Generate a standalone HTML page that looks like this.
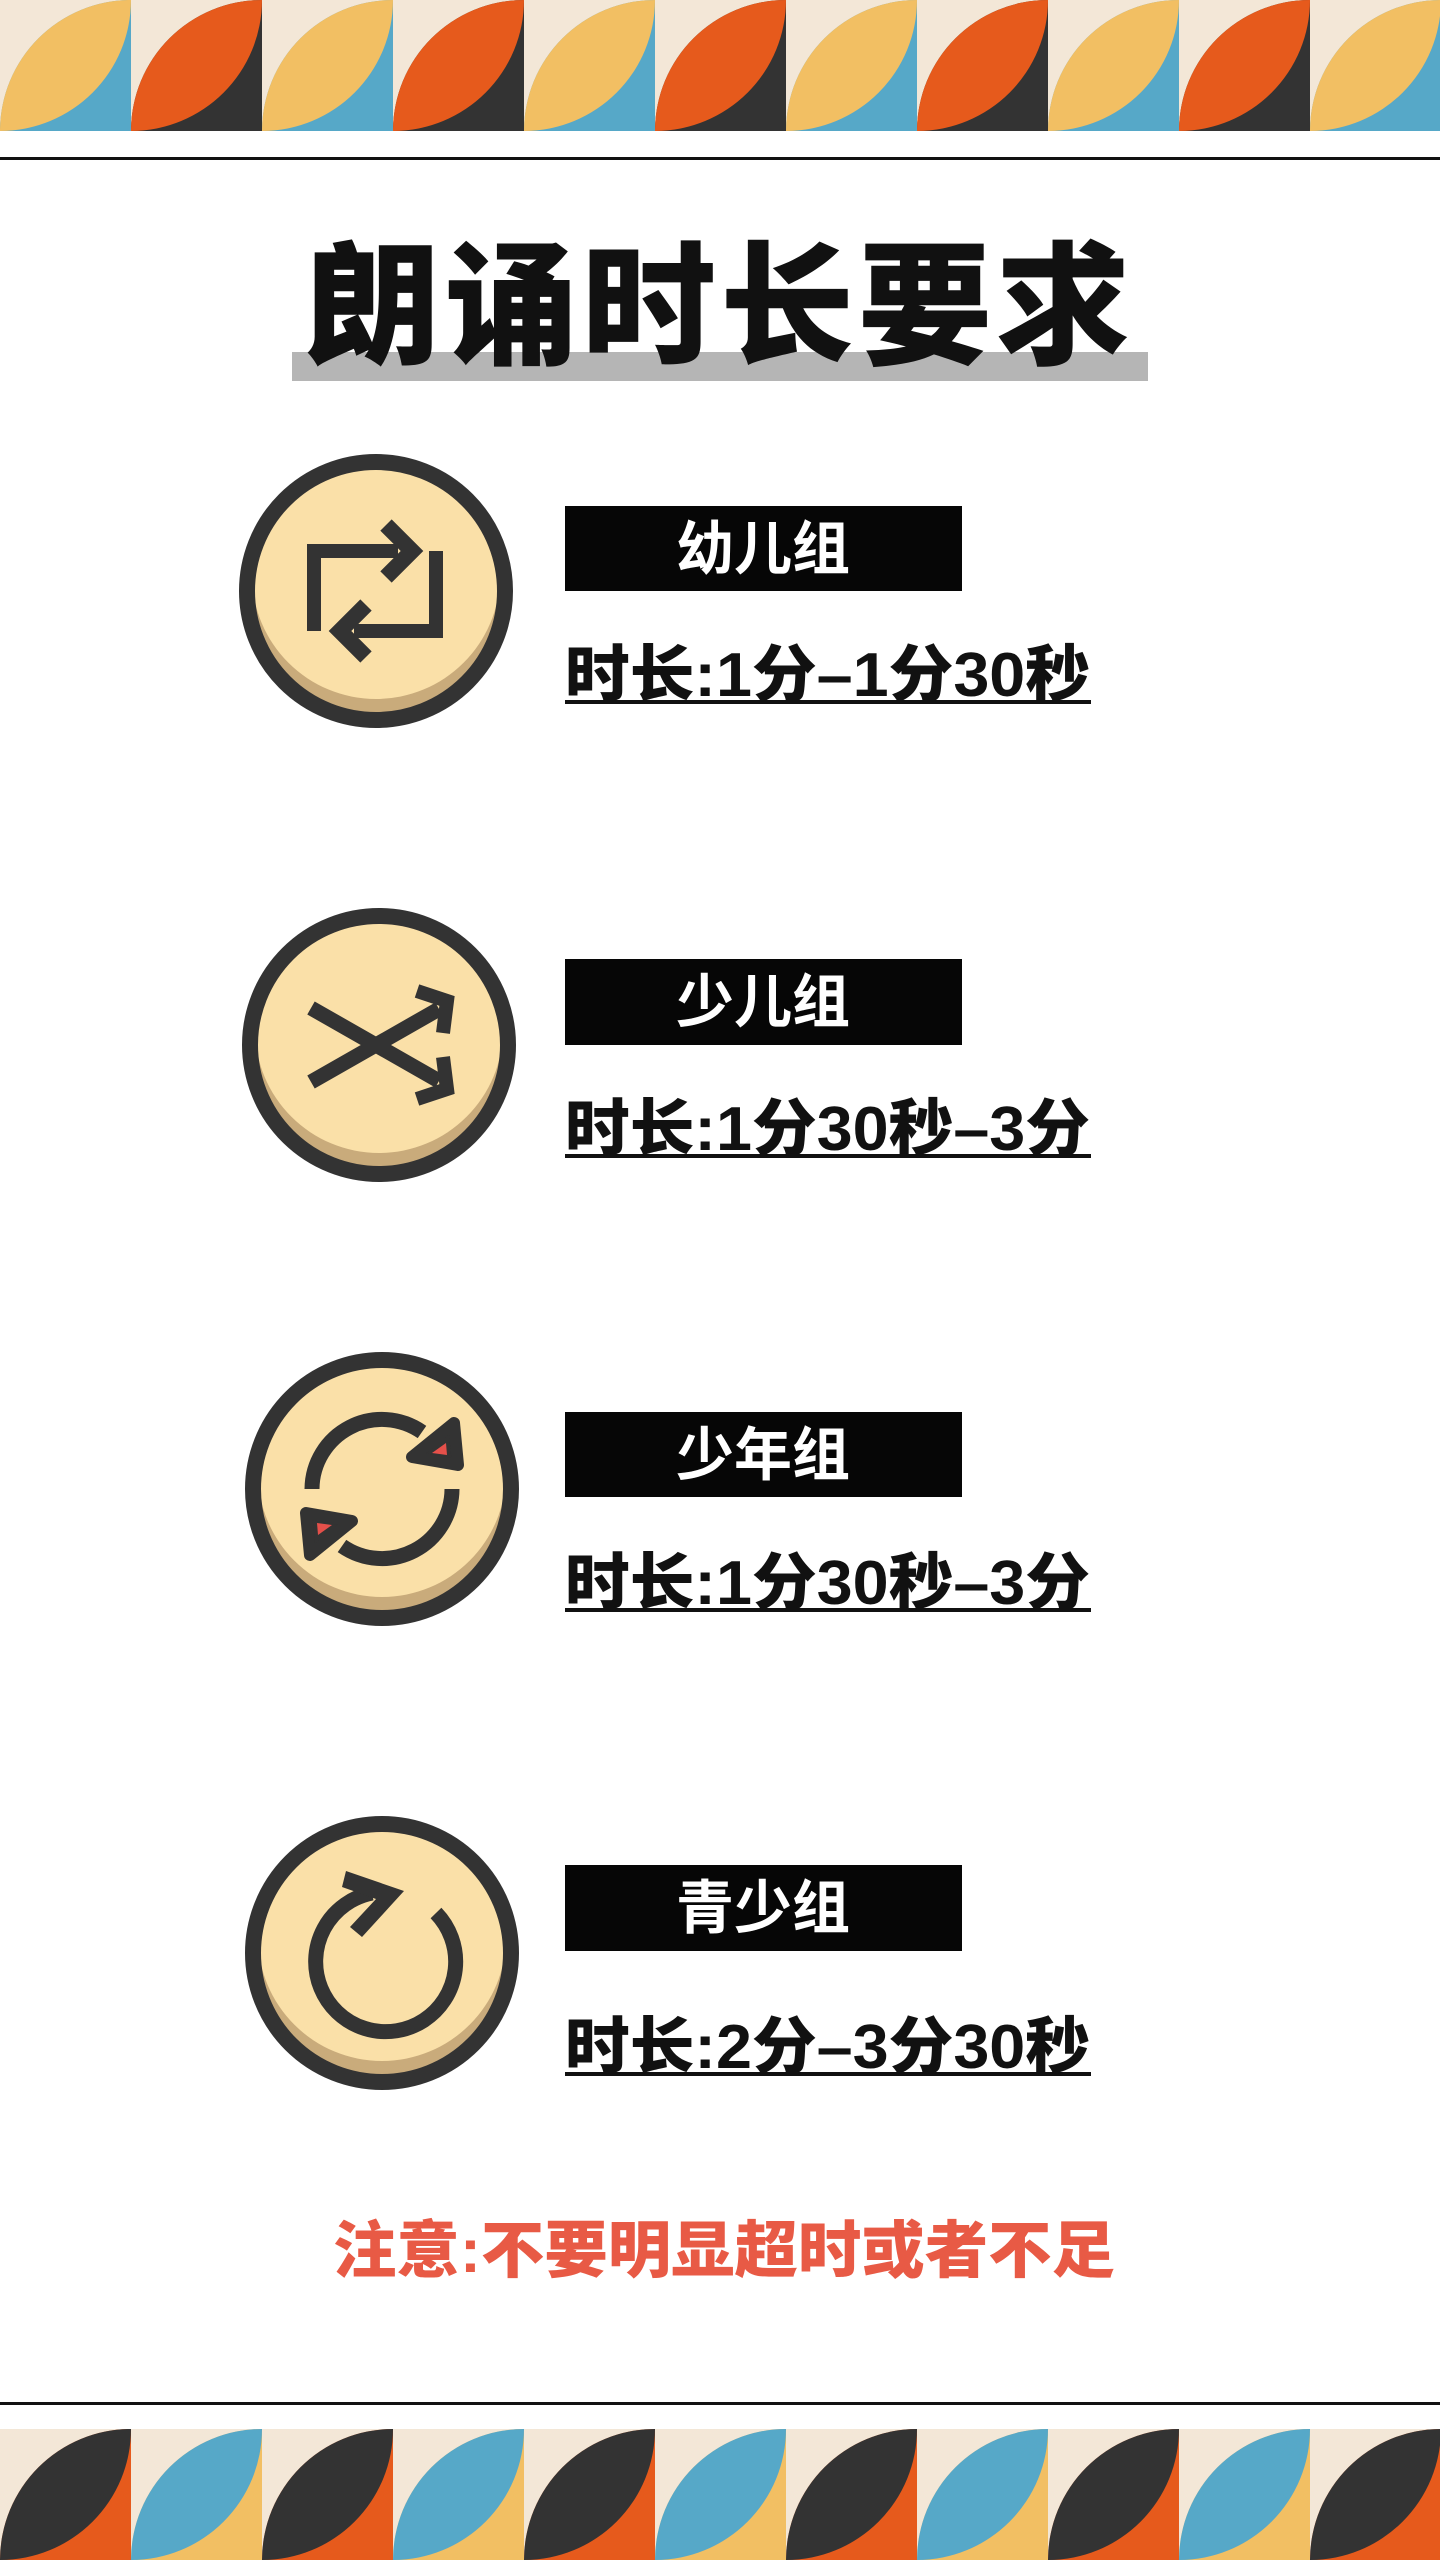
<!DOCTYPE html>
<html><head><meta charset="utf-8"><style>
html,body{margin:0;padding:0;background:#fff;}
svg{display:block;}
text{font-family:"Liberation Sans","Noto Sans CJK SC",sans-serif;}
</style></head><body>
<svg width="1440" height="2560" viewBox="0 0 1440 2560" xmlns="http://www.w3.org/2000/svg">
<defs>
<g id="tA"><rect width="131" height="131" fill="#f3e7d7"/><path d="M0 131 A131 131 0 0 1 131 0 L131 131 Z" fill="#56a8c8"/><path d="M0 131 A131 131 0 0 1 131 0 A131 131 0 0 1 0 131 Z" fill="#f2bf63"/></g>
<g id="tB"><rect width="131" height="131" fill="#f3e7d7"/><path d="M0 131 A131 131 0 0 1 131 0 L131 131 Z" fill="#333"/><path d="M0 131 A131 131 0 0 1 131 0 A131 131 0 0 1 0 131 Z" fill="#e65a1c"/></g>
<g id="tC"><rect width="131" height="131" fill="#f3e7d7"/><path d="M0 131 A131 131 0 0 1 131 0 L131 131 Z" fill="#e65a1c"/><path d="M0 131 A131 131 0 0 1 131 0 A131 131 0 0 1 0 131 Z" fill="#333"/></g>
<g id="tD"><rect width="131" height="131" fill="#f3e7d7"/><path d="M0 131 A131 131 0 0 1 131 0 L131 131 Z" fill="#f2bf63"/><path d="M0 131 A131 131 0 0 1 131 0 A131 131 0 0 1 0 131 Z" fill="#56a8c8"/></g>
<clipPath id="cc"><circle cx="0" cy="0" r="124"/></clipPath>
<g id="btn"><circle r="124" fill="#c9ab7b"/><circle cy="-16" r="124" fill="#fae0a8" clip-path="url(#cc)"/><circle r="129" fill="none" stroke="#333" stroke-width="16"/></g>
</defs>
<use href="#tA" x="0" y="0"/><use href="#tB" x="131" y="0"/><use href="#tA" x="262" y="0"/><use href="#tB" x="393" y="0"/><use href="#tA" x="524" y="0"/><use href="#tB" x="655" y="0"/><use href="#tA" x="786" y="0"/><use href="#tB" x="917" y="0"/><use href="#tA" x="1048" y="0"/><use href="#tB" x="1179" y="0"/><use href="#tA" x="1310" y="0"/>
<rect x="0" y="157" width="1440" height="3" fill="#111"/>
<rect x="0" y="2402" width="1440" height="3" fill="#111"/>
<use href="#tC" x="0" y="2429"/><use href="#tD" x="131" y="2429"/><use href="#tC" x="262" y="2429"/><use href="#tD" x="393" y="2429"/><use href="#tC" x="524" y="2429"/><use href="#tD" x="655" y="2429"/><use href="#tC" x="786" y="2429"/><use href="#tD" x="917" y="2429"/><use href="#tC" x="1048" y="2429"/><use href="#tD" x="1179" y="2429"/><use href="#tC" x="1310" y="2429"/>
<rect x="292" y="352" width="856" height="29" fill="#b5b5b5"/>
<text x="720" y="354" text-anchor="middle" font-size="134" font-weight="900" fill="#111" letter-spacing="4">朗诵时长要求</text>

<g transform="translate(376,591)"><use href="#btn"/>
<path d="M-62 40 V-40 H22" fill="none" stroke="#333" stroke-width="14"/>
<path d="M10 -66 L36 -40 L10 -14" fill="none" stroke="#333" stroke-width="16"/>
<path d="M60 -40 V40 H-22" fill="none" stroke="#333" stroke-width="14"/>
<path d="M-10 14 L-36 40 L-10 66" fill="none" stroke="#333" stroke-width="16"/>
</g>
<g transform="translate(379,1045)"><use href="#btn"/>
<path d="M-68 -37 L60 36 M-68 37 L60 -36" fill="none" stroke="#333" stroke-width="15"/>
<path d="M38 -54 L68 -44 L64 -12" fill="none" stroke="#333" stroke-width="14"/>
<path d="M38 54 L68 44 L64 12" fill="none" stroke="#333" stroke-width="14"/>
</g>
<g transform="translate(382,1489)"><use href="#btn"/>
<path d="M-70 0 A70 70 0 0 1 40 -57" fill="none" stroke="#333" stroke-width="15"/>
<path d="M70 0 A70 70 0 0 1 -40 57" fill="none" stroke="#333" stroke-width="15"/>
<path d="M72 -66 L30 -32 L76 -24 Z" fill="#333" stroke="#333" stroke-width="12" stroke-linejoin="round"/>
<path d="M-72 66 L-30 32 L-76 24 Z" fill="#333" stroke="#333" stroke-width="12" stroke-linejoin="round"/>
<path d="M64 -46 L50 -36 L65 -34 Z" fill="#e5504a"/>
<path d="M-64 46 L-50 36 L-65 34 Z" fill="#e5504a"/>
</g>
<g transform="translate(382,1953)"><use href="#btn"/>
<path d="M54 -40 A70 70 0 1 1 -10 -60" fill="none" stroke="#333" stroke-width="15"/>
<path d="M-36 -82 L22 -62 L-20 -16 L-32 -26 L-6 -54 L-40 -66 Z" fill="#333"/>
</g>

<g font-weight="700" font-size="58" fill="#fff" text-anchor="middle">
<rect x="565" y="506" width="397" height="85" fill="#060606"/><text x="763" y="569">幼儿组</text>
<rect x="565" y="959" width="397" height="86" fill="#060606"/><text x="763" y="1022">少儿组</text>
<rect x="565" y="1412" width="397" height="85" fill="#060606"/><text x="763" y="1475">少年组</text>
<rect x="565" y="1865" width="397" height="86" fill="#060606"/><text x="763" y="1928">青少组</text>
</g>
<g font-weight="900" font-size="62" fill="#111">
<text x="565" y="696" textLength="525" lengthAdjust="spacingAndGlyphs">时长:1分–1分30秒</text>
<rect x="565" y="700" width="526" height="4" fill="#111"/>
<text x="565" y="1150" textLength="525" lengthAdjust="spacingAndGlyphs">时长:1分30秒–3分</text>
<rect x="565" y="1154" width="526" height="4" fill="#111"/>
<text x="565" y="1604" textLength="525" lengthAdjust="spacingAndGlyphs">时长:1分30秒–3分</text>
<rect x="565" y="1608" width="526" height="4" fill="#111"/>
<text x="565" y="2068" textLength="525" lengthAdjust="spacingAndGlyphs">时长:2分–3分30秒</text>
<rect x="565" y="2072" width="526" height="4" fill="#111"/>
</g>
<text x="724" y="2272" text-anchor="middle" font-size="62" font-weight="900" fill="#e85a45" textLength="782" lengthAdjust="spacingAndGlyphs">注意:不要明显超时或者不足</text>
</svg>
</body></html>
